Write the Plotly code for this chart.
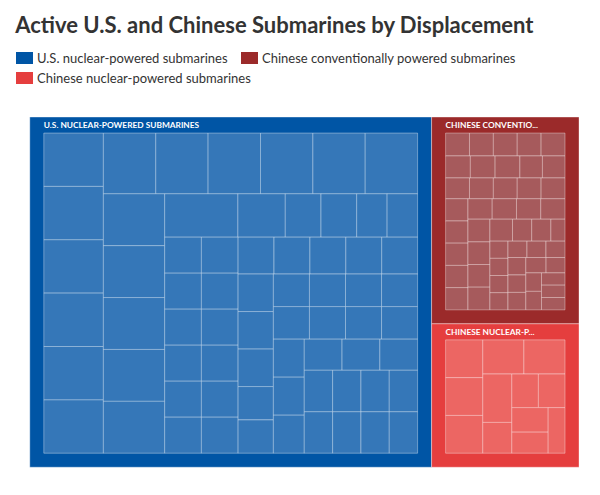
import plotly.graph_objects as go

# displacement (tonnes, submerged) per active boat
us_nuclear = [18750] * 18 + [9138, 9138, 12139] + [7800] * 22 + [6927] * 24
cn_conventional = [3600] * 21 + [2250] * 12 + [3950] * 8 + [3050] * 2 + [2100] * 6
cn_nuclear = [11000] * 6 + [7000] * 4 + [6000] * 2

groups = ["U.S. nuclear-powered submarines", "Chinese conventionally powered submarines",
          "Chinese nuclear-powered submarines"]
headers = ["U.S. NUCLEAR-POWERED SUBMARINES", "CHINESE CONVENTIO...", "CHINESE NUCLEAR-P..."]
group_colors = ["#0055a5", "#9b2a2a", "#e53e3e"]
tile_colors = ["#3577b8", "#a65a5c", "#ec6663"]

ids, labels, parents, values, colors = [], [], [], [], []
for g, h, vals, gc, tc in zip(groups, headers, [us_nuclear, cn_conventional, cn_nuclear],
                              group_colors, tile_colors):
    ids.append(g); labels.append(h); parents.append(""); values.append(sum(vals)); colors.append(gc)
    for i, v in enumerate(vals):
        ids.append(f"{g}-{i}"); labels.append(" "); parents.append(g); values.append(v); colors.append(tc)

fig = go.Figure(go.Treemap(
    ids=ids, labels=labels, parents=parents, values=values, branchvalues="total",
    textinfo="label", textposition="top left",
    textfont=dict(family="Lato", size=10, color="white", weight="bold"),
    marker=dict(colors=colors, line=dict(color="rgba(255,255,255,0.35)", width=1),
                pad=dict(t=16, l=14, r=14, b=14)),
    tiling=dict(packing="squarify", pad=0),
    pathbar=dict(visible=False),
    hoverinfo="skip", sort=True,
    domain=dict(x=[0.013, 0.975], y=[0.044, 0.812]),
))

legend_rows = [(8, 50, 0), (233, 50, 1), (8, 70, 2)]
for x, y, k in legend_rows:
    fig.add_shape(type="rect", xref="paper", yref="paper",
                  x0=x / 600, x1=(x + 17) / 600, y0=1 - (y + 6) / 495, y1=1 - (y - 6) / 495,
                  fillcolor=group_colors[k], line_width=0)
    fig.add_annotation(xref="paper", yref="paper", x=(x + 19) / 600, y=1 - y / 495,
                       text=groups[k], showarrow=False, xanchor="left", yanchor="middle",
                       font=dict(family="Lato", size=13, color="#333"))

fig.update_layout(
    width=600, height=495, margin=dict(l=0, r=0, t=0, b=0),
    paper_bgcolor="white",
    title=dict(text="<b>Active U.S. and Chinese Submarines by Displacement</b>",
               x=0.012, xanchor="left", y=0.965, yanchor="middle",
               font=dict(family="Lato", size=22, color="#333")),
)

fig.write_html("out.html")
